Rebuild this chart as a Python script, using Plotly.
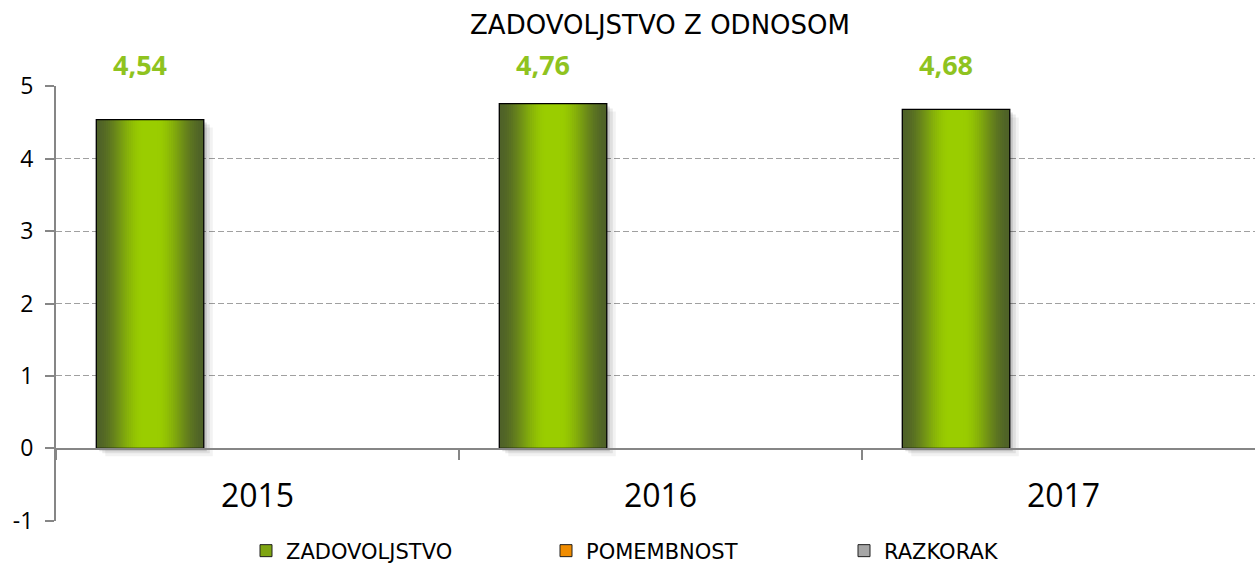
import plotly.graph_objects as go

# ---------------- data ----------------
years = ["2015", "2016", "2017"]
zadovoljstvo = [4.54, 4.76, 4.68]
pomembnost = [None, None, None]
razkorak = [None, None, None]
series_names = ["ZADOVOLJSTVO", "POMEMBNOST", "RAZKORAK"]
y_ticks = [-1, 0, 1, 2, 3, 4, 5]
title_text = "ZADOVOLJSTVO Z ODNOSOM"

# ---------------- style ----------------
FONT = "Open Sans"
TFONT = "DejaVu Sans"
W, H = 1255, 565
ML, MR, MT, MB = 56, 0, 86, 44
CAT_PX = 403.0
BAR_W = 0.8 / 3            # bar width in category units (3 series, gap 0.2)
BAR_C = -BAR_W             # first series centre offset from category centre
DARK = (79, 98, 40)
BRIGHT = (154, 205, 0)
LABEL_GREEN = "#8FC31F"
AXIS_GREY = "#868686"


def mix(c1, c2, t):
    return "rgb(%d,%d,%d)" % tuple(round(a + (b - a) * t) for a, b in zip(c1, c2))


def smooth(x):
    x = max(0.0, min(1.0, x))
    return x * x * (3 - 2 * x)


fig = go.Figure()

# soft drop shadow (right / below)
for dx_px, dy_px, alpha in [(9, 8, 0.05), (6, 5, 0.08), (3, 3, 0.12)]:
    dx = dx_px / CAT_PX
    dy = dy_px / 72.5
    fig.add_trace(go.Bar(
        x=years, y=zadovoljstvo, base=[-dy] * len(years),
        width=[BAR_W] * len(years), offset=[BAR_C - BAR_W / 2 + dx] * len(years),
        marker=dict(color="rgba(0,0,0,%.2f)" % alpha, line=dict(width=0)),
        showlegend=False, hoverinfo="skip"))

# horizontal gradient built from nested bars
N = 28
for k in range(N):
    f = 1 - k / N
    d = f - 0.5 / N
    t = smooth((d - 0.12) / 0.88)
    fig.add_trace(go.Bar(
        x=years, y=zadovoljstvo,
        width=[BAR_W * f] * len(years), offset=[BAR_C - BAR_W * f / 2] * len(years),
        marker=dict(color=mix(BRIGHT, DARK, t), line=dict(width=0)),
        showlegend=False, hoverinfo="skip"))

# outline on top
fig.add_trace(go.Bar(
    x=years, y=zadovoljstvo,
    width=[BAR_W] * len(years), offset=[BAR_C - BAR_W / 2] * len(years),
    marker=dict(color="rgba(0,0,0,0)", line=dict(color="black", width=1.3)),
    showlegend=False, hovertemplate="%{x}: %{y}<extra>ZADOVOLJSTVO</extra>"))

# legend entries (three separate legends to mimic Excel spacing)
legend_colors = ["#7FA512", "#F08C00", "#A6A6A6"]
legend_series = [[None] * len(years), pomembnost, razkorak]
legend_ids = ["legend", "legend2", "legend3"]
for name, col, vals, lid in zip(series_names, legend_colors, legend_series, legend_ids):
    fig.add_trace(go.Bar(
        x=years, y=vals, name=name, legend=lid,
        marker=dict(color=col, line=dict(color="#202020", width=1))))

# value labels
for i, v in enumerate(zadovoljstvo):
    fig.add_annotation(
        x=i + BAR_C, y=5, xref="x", yref="y", yshift=22, xshift=-10,
        text="<b>%s</b>" % ("%.2f" % v).replace(".", ","),
        showarrow=False, yanchor="middle",
        font=dict(family=FONT, size=27, color=LABEL_GREEN))

plot_w = W - ML - MR
legend_common = dict(orientation="h", xref="container", yref="container",
                     xanchor="left", yanchor="middle", y=1 - 551 / H,
                     font=dict(family=TFONT, size=21, color="black"),
                     bgcolor="rgba(0,0,0,0)", itemwidth=30)

fig.update_layout(
    width=W, height=H,
    margin=dict(l=ML, r=MR, t=MT, b=MB, pad=0, autoexpand=False),
    paper_bgcolor="white", plot_bgcolor="white",
    barmode="overlay",
    font=dict(family=FONT, color="black"),
    title=dict(text=title_text, x=660 / W, xref="container", xanchor="center",
               y=1 - 25 / H, yref="container", yanchor="middle",
               font=dict(family=TFONT, size=26, color="black")),
    xaxis=dict(type="category", categoryorder="array", categoryarray=years,
               range=[-0.5, -0.5 + plot_w / CAT_PX],
               anchor="free", position=1 / 6,
               showline=True, linecolor=AXIS_GREY, linewidth=2,
               ticks="outside", tickson="boundaries", ticklen=10,
               tickcolor=AXIS_GREY, tickwidth=2,
               showgrid=False, zeroline=False,
               tickfont=dict(family=FONT, size=32, color="black"),
               ticklabelstandoff=19),
    yaxis=dict(range=[-1.003, 5.003], tickvals=y_ticks, ticktext=[str(t) for t in y_ticks],
               showline=True, linecolor=AXIS_GREY, linewidth=2,
               ticks="outside", ticklen=9, tickcolor=AXIS_GREY, tickwidth=2,
               showgrid=True, gridcolor="#A0A0A0", gridwidth=1.3, griddash="6px,3px",
               zeroline=False, ticklabelstandoff=7,
               tickfont=dict(family=FONT, size=23, color="black")),
    legend=dict(legend_common, x=(262 - 16) / W),
    legend2=dict(legend_common, x=(562 - 16) / W),
    legend3=dict(legend_common, x=(860 - 16) / W),
)

fig.write_html("out.html")
